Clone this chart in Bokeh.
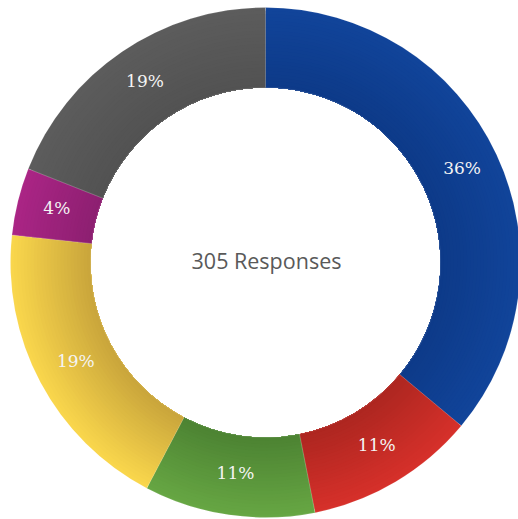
import math
from bokeh.plotting import figure
from bokeh.models import Range1d, ColumnDataSource
from bokeh.core.properties import value
from bokeh.embed import file_html
from bokeh.resources import INLINE

categories = ["A", "B", "C", "D", "E", "F"]
counts = [110, 33, 33, 58, 13, 58]
outer_colors = ["#11449A", "#D6302A", "#66A643", "#F9D64C", "#AA2585", "#5C5C5C"]
inner_colors = ["#0D3A88", "#AC2620", "#4C8232", "#C8A43B", "#8C1F70", "#525252"]
center_label = "305 Responses"

total = sum(counts)
W, H = 518, 519
p = figure(width=W, height=H, output_backend="svg", toolbar_location=None,
           x_range=Range1d(0, W), y_range=Range1d(0, H), min_border=0)
p.axis.visible = False
p.grid.visible = False
p.outline_line_color = None
p.background_fill_color = "white"

cx, cy = 265, H - 262
r_in, r_out = 175, 255

def mix(c1, c2, t):
    a = [int(c1[i:i + 2], 16) for i in (1, 3, 5)]
    b = [int(c2[i:i + 2], 16) for i in (1, 3, 5)]
    return "#%02x%02x%02x" % tuple(round(a[k] + (b[k] - a[k]) * t) for k in range(3))

starts, ends, labels, lx, ly = [], [], [], [], []
cum = 0.0
for c in counts:
    f0 = cum / total
    cum += c
    f1 = cum / total
    starts.append(math.pi / 2 - f0 * 2 * math.pi)
    ends.append(math.pi / 2 - f1 * 2 * math.pi)
    mid = math.pi / 2 - (f0 + f1) / 2 * 2 * math.pi
    labels.append("%d%%" % round(c / total * 100))
    lx.append(cx + 1 + 216 * math.cos(mid))
    ly.append(cy + 216 * math.sin(mid) + 3)

nb = 24
for b in range(nb):
    rr = r_out - (r_out - r_in) * b / nb
    t = b / nb
    cols = [mix(outer_colors[i], inner_colors[i], t) for i in range(len(counts))]
    src = ColumnDataSource(dict(s=starts, e=ends, c=cols))
    p.annular_wedge(x=cx, y=cy, inner_radius=r_in, outer_radius=rr,
                    start_angle="s", end_angle="e", direction="clock",
                    fill_color="c", line_color=None, source=src)

src = ColumnDataSource(dict(s=starts, e=ends))
p.annular_wedge(x=cx, y=cy, inner_radius=r_in, outer_radius=r_out,
                start_angle="s", end_angle="e", direction="clock",
                fill_color=None, line_color="white", line_alpha=0.25, line_width=0.5, source=src)

lsrc = ColumnDataSource(dict(x=lx, y=ly, t=labels))
p.text(x="x", y="y", text="t", source=lsrc, text_align="center", text_baseline="middle",
       text_color="#F4F4F4", text_font=value("DejaVu Serif"), text_font_size="17px")

p.text(x=[cx + 1], y=[cy + 2], text=[center_label], text_align="center", text_baseline="middle",
       text_color="#595959", text_font=value("Open Sans"), text_font_size="21.5px")

open("out.html", "w").write(file_html(p, INLINE))
